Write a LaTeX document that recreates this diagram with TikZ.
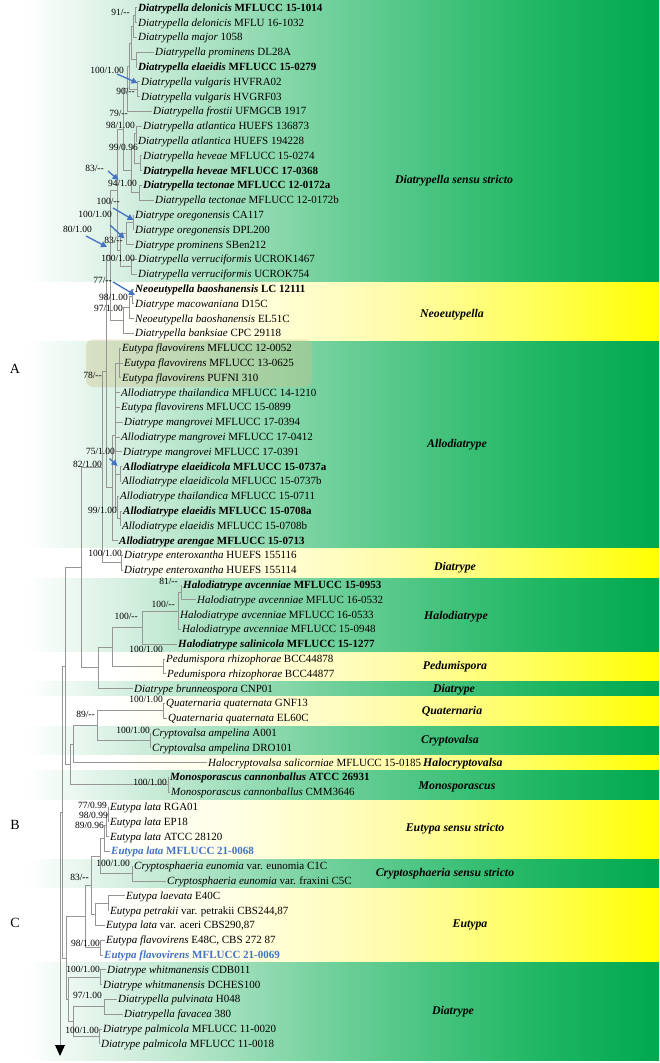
\documentclass[tikz,border=0pt]{standalone}
\usepackage{fontspec}
\setmainfont{Liberation Serif}
\usetikzlibrary{arrows.meta,calc}
\definecolor{gA}{RGB}{210,238,222}
\definecolor{gB}{RGB}{112,208,155}
\definecolor{gC}{RGB}{35,184,102}
\definecolor{gD}{RGB}{0,168,78}
\definecolor{yA}{RGB}{255,255,232}
\definecolor{yB}{RGB}{255,252,170}
\definecolor{yC}{RGB}{255,255,95}
\definecolor{yD}{RGB}{255,255,0}
\definecolor{abl}{RGB}{68,114,196}
\definecolor{brc}{RGB}{150,150,150}
\definecolor{hlc}{RGB}{200,195,140}
\pgfdeclarehorizontalshading{gband}{100bp}{color(0bp)=(white); color(25bp)=(white); color(27bp)=(white); color(35bp)=(gA); color(50bp)=(gB); color(65bp)=(gC); color(75bp)=(gD); color(100bp)=(gD)}
\pgfdeclarehorizontalshading{yband}{100bp}{color(0bp)=(white); color(25bp)=(white); color(33bp)=(white); color(42bp)=(yA); color(55bp)=(yB); color(65bp)=(yC); color(75bp)=(yD); color(100bp)=(yD)}
\newcommand{\tx}[2]{\textit{#1} #2}
\newcommand{\tb}[2]{\textbf{\textit{#1} #2}}
\newcommand{\RY}[1]{7.8+14.8*(#1-1)}
\newcommand{\BY}[1]{7.8+14.8*(#1-0.5)}
\newcommand{\leaf}[3]{\node[tax] (t#1) at ({#2-1},{\RY{#1}}) {#3};}
\newcommand{\inode}[4]{\path let \p1=(#3), \p2=(#4) in coordinate (#1) at (#2pt,{0.5*\y1+0.5*\y2});}
\newcommand{\edge}[2]{\draw[br] (#1) |- (#2);}
\newcommand{\bandG}[2]{\shade[shading=gband] (0,{#1+0.5}) rectangle (659,{#2-0.5});}
\newcommand{\bandY}[2]{\shade[shading=yband] (0,{#1+0.5}) rectangle (659,{#2-0.5});}
\tikzset{
  tax/.style={anchor=west, inner xsep=1pt, inner ysep=0pt, text height=7pt, text depth=0pt, font=\fontsize{11}{12}\selectfont},
  bs/.style={anchor=east, inner sep=0pt, text height=6pt, text depth=0pt, font=\fontsize{9.5}{10}\selectfont},
  clade/.style={inner sep=0pt, text height=8pt, text depth=0pt, font=\fontsize{11.8}{13}\selectfont\bfseries\itshape},
  br/.style={draw=brc, line width=0.8pt},
  barr/.style={draw=abl, line width=1.3pt, -{Triangle[length=6pt,width=6pt]}},
}
\begin{document}
\begin{tikzpicture}[x=1pt,y=-1pt]
\useasboundingbox (0,0) rectangle (659,1063);
% ---------- bands
\bandG{-0.5}{\BY{19}}
\bandY{\BY{19}}{\BY{23}}
\bandG{\BY{23}}{\BY{37}}
\bandY{\BY{37}}{\BY{39}}
\bandG{\BY{39}}{\BY{44}}
\bandY{\BY{44}}{\BY{46}}
\bandG{\BY{46}}{\BY{47}}
\bandY{\BY{47}}{\BY{49}}
\bandG{\BY{49}}{\BY{51}}
\bandY{\BY{51}}{\BY{52}}
\bandG{\BY{52}}{\BY{54}}
\bandY{\BY{54}}{\BY{58}}
\bandG{\BY{58}}{\BY{60}}
\bandY{\BY{60}}{\BY{65}}
\bandG{\BY{65}}{1060.5}
\fill[hlc, opacity=0.4, rounded corners=7pt] (86,339.5) rectangle (312,387);
% ---------- leaves
\leaf{1}{138}{\tb{Diatrypella delonicis}{MFLUCC 15-1014}}
\leaf{2}{138}{\tx{Diatrypella delonicis}{MFLU 16-1032}}
\leaf{3}{138}{\tx{Diatrypella major}{1058}}
\leaf{4}{155}{\tx{Diatrypella prominens}{DL28A}}
\leaf{5}{138}{\tb{Diatrypella elaeidis}{MFLUCC 15-0279}}
\leaf{6}{141}{\tx{Diatrypella vulgaris}{HVFRA02}}
\leaf{7}{141}{\tx{Diatrypella vulgaris}{HVGRF03}}
\leaf{8}{153}{\tx{Diatrypella frostii}{UFMGCB 1917}}
\leaf{9}{143}{\tx{Diatrypella atlantica}{HUEFS 136873}}
\leaf{10}{138}{\tx{Diatrypella atlantica}{HUEFS 194228}}
\leaf{11}{143}{\tx{Diatrypella heveae}{MFLUCC 15-0274}}
\leaf{12}{143}{\tb{Diatrypella heveae}{MFLUCC 17-0368}}
\leaf{13}{143}{\tb{Diatrypella tectonae}{MFLUCC 12-0172a}}
\leaf{14}{155}{\tx{Diatrypella tectonae}{MFLUCC 12-0172b}}
\leaf{15}{135}{\tx{Diatrype oregonensis}{CA117}}
\leaf{16}{135}{\tx{Diatrype oregonensis}{DPL200}}
\leaf{17}{135}{\tx{Diatrype prominens}{SBen212}}
\leaf{18}{138}{\tx{Diatrypella verruciformis}{UCROK1467}}
\leaf{19}{138}{\tx{Diatrypella verruciformis}{UCROK754}}
\leaf{20}{135}{\tb{Neoeutypella baoshanensis}{LC 12111}}
\leaf{21}{135}{\tx{Diatrype macowaniana}{D15C}}
\leaf{22}{135}{\tx{Neoeutypella baoshanensis}{EL51C}}
\leaf{23}{135}{\tx{Diatrypella banksiae}{CPC 29118}}
\leaf{24}{122}{\tx{Eutypa flavovirens}{MFLUCC 12-0052}}
\leaf{25}{124}{\tx{Eutypa flavovirens}{MFLUCC 13-0625}}
\leaf{26}{122}{\tx{Eutypa flavovirens}{PUFNI 310}}
\leaf{27}{121}{\tx{Allodiatrype thailandica}{MFLUCC 14-1210}}
\leaf{28}{121}{\tx{Eutypa flavovirens}{MFLUCC 15-0899}}
\leaf{29}{124}{\tx{Diatrype mangrovei}{MFLUCC 17-0394}}
\leaf{30}{121}{\tx{Allodiatrype mangrovei}{MFLUCC 17-0412}}
\leaf{31}{123}{\tx{Diatrype mangrovei}{MFLUCC 17-0391}}
\leaf{32}{123}{\tb{Allodiatrype elaeidicola}{MFLUCC 15-0737a}}
\leaf{33}{122}{\tx{Allodiatrype elaeidicola}{MFLUCC 15-0737b}}
\leaf{34}{120}{\tx{Allodiatrype thailandica}{MFLUCC 15-0711}}
\leaf{35}{123}{\tb{Allodiatrype elaeidis}{MFLUCC 15-0708a}}
\leaf{36}{122}{\tx{Allodiatrype elaeidis}{MFLUCC 15-0708b}}
\leaf{37}{119}{\tb{Allodiatrype arengae}{MFLUCC 15-0713}}
\leaf{38}{124}{\tx{Diatrype enteroxantha}{HUEFS 155116}}
\leaf{39}{124}{\tx{Diatrype enteroxantha}{HUEFS 155114}}
\leaf{40}{183}{\tb{Halodiatrype avcenniae}{MFLUCC 15-0953}}
\leaf{41}{197}{\tx{Halodiatrype avcenniae}{MFLUC 16-0532}}
\leaf{42}{180}{\tx{Halodiatrype avcenniae}{MFLUCC 16-0533}}
\leaf{43}{182}{\tx{Halodiatrype avcenniae}{MFLUCC 15-0948}}
\leaf{44}{178}{\tb{Halodiatrype salinicola}{MFLUCC 15-1277}}
\leaf{45}{166}{\tx{Pedumispora rhizophorae}{BCC44878}}
\leaf{46}{167}{\tx{Pedumispora rhizophorae}{BCC44877}}
\leaf{47}{134}{\tx{Diatrype brunneospora}{CNP01}}
\leaf{48}{166}{\tx{Quaternaria quaternata}{GNF13}}
\leaf{49}{168}{\tx{Quaternaria quaternata}{EL60C}}
\leaf{50}{152}{\tx{Cryptovalsa ampelina}{A001}}
\leaf{51}{152}{\tx{Cryptovalsa ampelina}{DRO101}}
\leaf{52}{208}{\tx{Halocryptovalsa salicorniae}{MFLUCC 15-0185}}
\leaf{53}{170}{\tb{Monosporascus cannonballus}{ATCC 26931}}
\leaf{54}{171}{\tx{Monosporascus cannonballus}{CMM3646}}
\leaf{55}{110}{\tx{Eutypa lata}{RGA01}}
\leaf{56}{110}{\tx{Eutypa lata}{EP18}}
\leaf{57}{110}{\tx{Eutypa lata}{ATCC 28120}}
\leaf{58}{111}{\textcolor{abl}{\tb{Eutypa lata}{MFLUCC 21-0068}}}
\leaf{59}{134}{\tx{Cryptosphaeria eunomia}{var. eunomia C1C}}
\leaf{60}{167}{\tx{Cryptosphaeria eunomia}{var. fraxini C5C}}
\leaf{61}{126}{\tx{Eutypa laevata}{E40C}}
\leaf{62}{110}{\tx{Eutypa petrakii}{var. petrakii CBS244,87}}
\leaf{63}{106}{\tx{Eutypa lata}{var. aceri CBS290,87}}
\leaf{64}{106}{\tx{Eutypa flavovirens}{E48C, CBS 272 87}}
\leaf{65}{104}{\textcolor{abl}{\tb{Eutypa flavovirens}{MFLUCC 21-0069}}}
\leaf{66}{107}{\tx{Diatrype whitmanensis}{CDB011}}
\leaf{67}{103}{\tx{Diatrype whitmanensis}{DCHES100}}
\leaf{68}{118}{\tx{Diatrypella pulvinata}{H048}}
\leaf{69}{124}{\tx{Diatrypella favacea}{380}}
\leaf{70}{103}{\tx{Diatrype palmicola}{MFLUCC 11-0020}}
\leaf{71}{101}{\tx{Diatrype palmicola}{MFLUCC 11-0018}}
% ---------- internal nodes (upper)
\inode{a1}{135}{t1.west}{t2.west}
\inode{a2}{133}{a1}{t3.west}
\inode{a3}{136}{t4.west}{t5.west}
\inode{a4}{131}{a2}{a3}
\inode{a5}{137}{t6.west}{t7.west}
\inode{a6}{129}{a4}{a5}
\inode{a7}{127}{a6}{t8.west}
\inode{a8}{136}{t9.west}{t10.west}
\inode{a9}{140}{t11.west}{t12.west}
\inode{a10}{134}{a8}{a9}
\inode{a11}{139}{t13.west}{t14.west}
\inode{a12}{131}{a10}{a11}
\inode{a13}{123}{a7}{a12}
\inode{d1}{133}{t15.west}{t16.west}
\inode{d2}{126}{d1}{t17.west}
\inode{d3}{131}{t18.west}{t19.west}
\inode{d4}{120}{d2}{d3}
\inode{ds}{117}{a13}{d4}
\inode{n1}{132}{t20.west}{t21.west}
\inode{n2}{129}{n1}{t22.west}
\inode{n3}{123}{n2}{t23.west}
\inode{sN}{110}{ds}{n3}
\inode{f1}{119}{t24.west}{t26.west}
\inode{f3}{120}{t32.west}{t33.west}
\inode{f4}{120}{t35.west}{t36.west}
\inode{f5}{117}{t34.west}{f4}
\inode{f6}{115}{f1}{f5}
\inode{f7}{112}{f6}{t37.west}
\inode{qQ}{106}{sN}{f7}
\inode{e1}{121}{t38.west}{t39.west}
\inode{pP}{102}{qQ}{e1}
\inode{h1}{181}{t40.west}{t41.west}
\inode{h2}{178}{h1}{t43.west}
\inode{h3}{142}{h2}{t44.west}
\inode{p1}{163}{t45.west}{t46.west}
\inode{h4}{112}{h3}{p1}
\inode{h5}{98}{h4}{t47.west}
\inode{xE}{81}{pP}{h5}
\inode{q1}{163}{t48.west}{t49.west}
\inode{c1}{150}{t50.west}{t51.west}
\inode{q2}{97}{q1}{c1}
\inode{q3}{73}{q2}{t52.west}
\inode{m1}{168}{t53.west}{t54.west}
\inode{q4}{70}{q3}{m1}
\inode{xS}{65}{xE}{q4}
% lower
\inode{lA}{108}{t55.west}{t56.west}
\inode{lB}{106}{lA}{t57.west}
\inode{lC}{104}{lB}{t58.west}
\inode{cA}{132}{t59.west}{t60.west}
\inode{gA}{100}{lC}{cA}
\inode{uC}{108}{t61.west}{t62.west}
\inode{uB}{95}{uC}{t63.west}
\inode{rA}{91}{gA}{uB}
\inode{uA}{100}{t64.west}{t65.west}
\inode{uE}{85}{rA}{uA}
\inode{wA}{100}{t66.west}{t67.west}
\inode{wB}{104}{t68.west}{t69.west}
\inode{wC}{99}{t70.west}{t71.west}
\inode{wD}{73}{wB}{wC}
\inode{wE}{68}{wA}{wD}
\inode{rB}{66}{uE}{wE}
\inode{rC}{62}{xS}{rB}
% ---------- edges
\edge{a1}{t1.west}\edge{a1}{t2.west}
\edge{a2}{a1}\edge{a2}{t3.west}
\edge{a3}{t4.west}\edge{a3}{t5.west}
\edge{a4}{a2}\edge{a4}{a3}
\edge{a5}{t6.west}\edge{a5}{t7.west}
\edge{a6}{a4}\edge{a6}{a5}
\edge{a7}{a6}\edge{a7}{t8.west}
\edge{a8}{t9.west}\edge{a8}{t10.west}
\edge{a9}{t11.west}\edge{a9}{t12.west}
\edge{a10}{a8}\edge{a10}{a9}
\edge{a11}{t13.west}\edge{a11}{t14.west}
\edge{a12}{a10}\edge{a12}{a11}
\edge{a13}{a7}\edge{a13}{a12}
\edge{d1}{t15.west}\edge{d1}{t16.west}
\edge{d2}{d1}\edge{d2}{t17.west}
\edge{d3}{t18.west}\edge{d3}{t19.west}
\edge{d4}{d2}\edge{d4}{d3}
\edge{ds}{a13}\edge{ds}{d4}
\edge{n1}{t20.west}\edge{n1}{t21.west}
\edge{n2}{n1}\edge{n2}{t22.west}
\edge{n3}{n2}\edge{n3}{t23.west}
\edge{sN}{ds}\edge{sN}{n3}
\edge{f1}{t24.west}\edge{f1}{t25.west}\edge{f1}{t26.west}
\edge{f3}{t32.west}\edge{f3}{t33.west}
\edge{f4}{t35.west}\edge{f4}{t36.west}
\edge{f5}{t34.west}\edge{f5}{f4}
\edge{f6}{f1}\edge{f6}{t27.west}\edge{f6}{t28.west}\edge{f6}{t29.west}\edge{f6}{t30.west}\edge{f6}{t31.west}\edge{f6}{f3}\edge{f6}{f5}
\edge{f7}{f6}\edge{f7}{t37.west}
\edge{qQ}{sN}\edge{qQ}{f7}
\edge{e1}{t38.west}\edge{e1}{t39.west}
\edge{pP}{qQ}\edge{pP}{e1}
\edge{h1}{t40.west}\edge{h1}{t41.west}
\edge{h2}{h1}\edge{h2}{t42.west}\edge{h2}{t43.west}
\edge{h3}{h2}\edge{h3}{t44.west}
\edge{p1}{t45.west}\edge{p1}{t46.west}
\edge{h4}{h3}\edge{h4}{p1}
\edge{h5}{h4}\edge{h5}{t47.west}
\edge{xE}{pP}\edge{xE}{h5}
\edge{q1}{t48.west}\edge{q1}{t49.west}
\edge{c1}{t50.west}\edge{c1}{t51.west}
\edge{q2}{q1}\edge{q2}{c1}
\edge{q3}{q2}\edge{q3}{t52.west}
\edge{m1}{t53.west}\edge{m1}{t54.west}
\edge{q4}{q3}\edge{q4}{m1}
\edge{xS}{xE}\edge{xS}{q4}
\edge{lA}{t55.west}\edge{lA}{t56.west}
\edge{lB}{lA}\edge{lB}{t57.west}
\edge{lC}{lB}\edge{lC}{t58.west}
\edge{cA}{t59.west}\edge{cA}{t60.west}
\edge{gA}{lC}\edge{gA}{cA}
\edge{uC}{t61.west}\edge{uC}{t62.west}
\edge{uB}{uC}\edge{uB}{t63.west}
\edge{rA}{gA}\edge{rA}{uB}
\edge{uA}{t64.west}\edge{uA}{t65.west}
\edge{uE}{rA}\edge{uE}{uA}
\edge{wA}{t66.west}\edge{wA}{t67.west}
\edge{wB}{t68.west}\edge{wB}{t69.west}
\edge{wC}{t70.west}\edge{wC}{t71.west}
\edge{wD}{wB}\edge{wD}{wC}
\edge{wE}{wA}\edge{wE}{wD}
\edge{rB}{uE}\edge{rB}{wE}
\edge{rC}{xS}\edge{rC}{rB}
\path let \p1=(rC) in coordinate (rt) at (60pt,\y1);
\coordinate (rtend) at (60,1045);
\draw[br] (rt) -- (rC);
\draw[br] (rt) -- (rtend);
\coordinate (trL) at (55,1045); \coordinate (trR) at (65,1045); \coordinate (trB) at (60,1056);
\fill[black] (trL) -- (trR) -- (trB) -- cycle;
% ---------- support values
\node[bs] (s1) at (130,12) {91/-{}-};
\node[bs] (s2) at (124,70) {100/1.00};
\node[bs] (s3) at (135,91) {90/-{}-};
\node[bs] (s4) at (128,113) {79/-{}-};
\node[bs] (s5) at (135,125) {98/1.00};
\node[bs] (s6) at (138,147) {99/0.96};
\node[bs] (s7) at (104,168) {83/-{}-};
\node[bs] (s8) at (137,183) {94/1.00};
\node[bs] (s9) at (120,201) {100/-{}-};
\node[bs] (s10) at (112,214) {100/1.00};
\node[bs] (s11) at (92,229) {80/1.00};
\node[bs] (s12) at (123,240) {83/-{}-};
\node[bs] (s13) at (135,258) {100/1.00};
\node[bs] (s14) at (112,280) {77/-{}-};
\node[bs] (s15) at (128,297) {98/1.00};
\node[bs] (s16) at (123,308) {97/1.00};
\node[bs] (s17) at (102,375) {78/-{}-};
\node[bs] (s18) at (115,451) {75/1.00};
\node[bs] (s19) at (102,464) {82/1.00};
\node[bs] (s20) at (117,510) {99/1.00};
\node[bs] (s21) at (122,553) {100/1.00};
\node[bs] (s22) at (178,581) {81/-{}-};
\node[bs] (s23) at (175,604) {100/-{}-};
\node[bs] (s24) at (138,616) {100/-{}-};
\node[bs] (s25) at (163,649) {100/1.00};
\node[bs] (s26) at (163,699) {100/1.00};
\node[bs] (s27) at (95,714) {89/-{}-};
\node[bs] (s28) at (150,730) {100/1.00};
\node[bs] (s29) at (167,782) {100/1.00};
\node[bs] (s30) at (107,805) {77/0.99};
\node[bs] (s31) at (108,815) {98/0.99};
\node[bs] (s32) at (104,825) {89/0.96};
\node[bs] (s33) at (130,863) {100/1.00};
\node[bs] (s34) at (89,877) {83/\textbf{-{}-}};
\node[bs] (s35) at (100,943) {98/1.00};
\node[bs] (s36) at (100,969) {100/1.00};
\node[bs] (s37) at (102,995) {97/1.00};
\node[bs] (s38) at (99,1030) {100/1.00};
% ---------- blue arrows
\coordinate (u1) at (117,74);   \coordinate (v1) at (137.5,83);
\coordinate (u2) at (108,171);  \coordinate (v2) at (118.5,180);
\coordinate (u3) at (113,208);  \coordinate (v3) at (133.5,220);
\coordinate (u4) at (110,225);  \coordinate (v4) at (124.5,238.5);
\coordinate (u5) at (86,236);   \coordinate (v5) at (107,247);
\coordinate (u6) at (113,282);  \coordinate (v6) at (135,295);
\coordinate (u7) at (109.5,458.5); \coordinate (v7) at (117.5,466);
\foreach \i in {1,...,7} {\draw[barr] (u\i) -- (v\i);}
% ---------- clade labels
\node[clade] (c1) at (454,179) {Diatrypella sensu stricto};
\node[clade] (c2) at (452,313) {Neoeutypella};
\node[clade] (c3) at (457,443) {Allodiatrype};
\node[clade] (c4) at (455,566) {Diatrype};
\node[clade] (c5) at (456,615) {Halodiatrype};
\node[clade] (c6) at (455,665) {Pedumispora};
\node[clade] (c7) at (454,688) {Diatrype};
\node[clade] (c8) at (452,710) {Quaternaria};
\node[clade, anchor=west] (c10) at (423,762.6) {Halocryptovalsa};
\node[clade] (c9) at (450,739) {Cryptovalsa};
\node[clade] (c11) at (457,785) {Monosporascus};
\node[clade] (c12) at (455,827) {Eutypa sensu stricto};
\node[clade] (c13) at (445,872) {Cryptosphaeria sensu stricto};
\node[clade] (c14) at (470,923) {Eutypa};
\node[clade] (c15) at (453,1010) {Diatrype};
% ---------- letters
\node[font=\fontsize{14}{16}\selectfont, inner sep=0pt] (LA) at (15,369) {A};
\node[font=\fontsize{14}{16}\selectfont, inner sep=0pt] (LB) at (15,825) {B};
\node[font=\fontsize{14}{16}\selectfont, inner sep=0pt] (LC) at (15,923) {C};
\end{tikzpicture}
\end{document}
